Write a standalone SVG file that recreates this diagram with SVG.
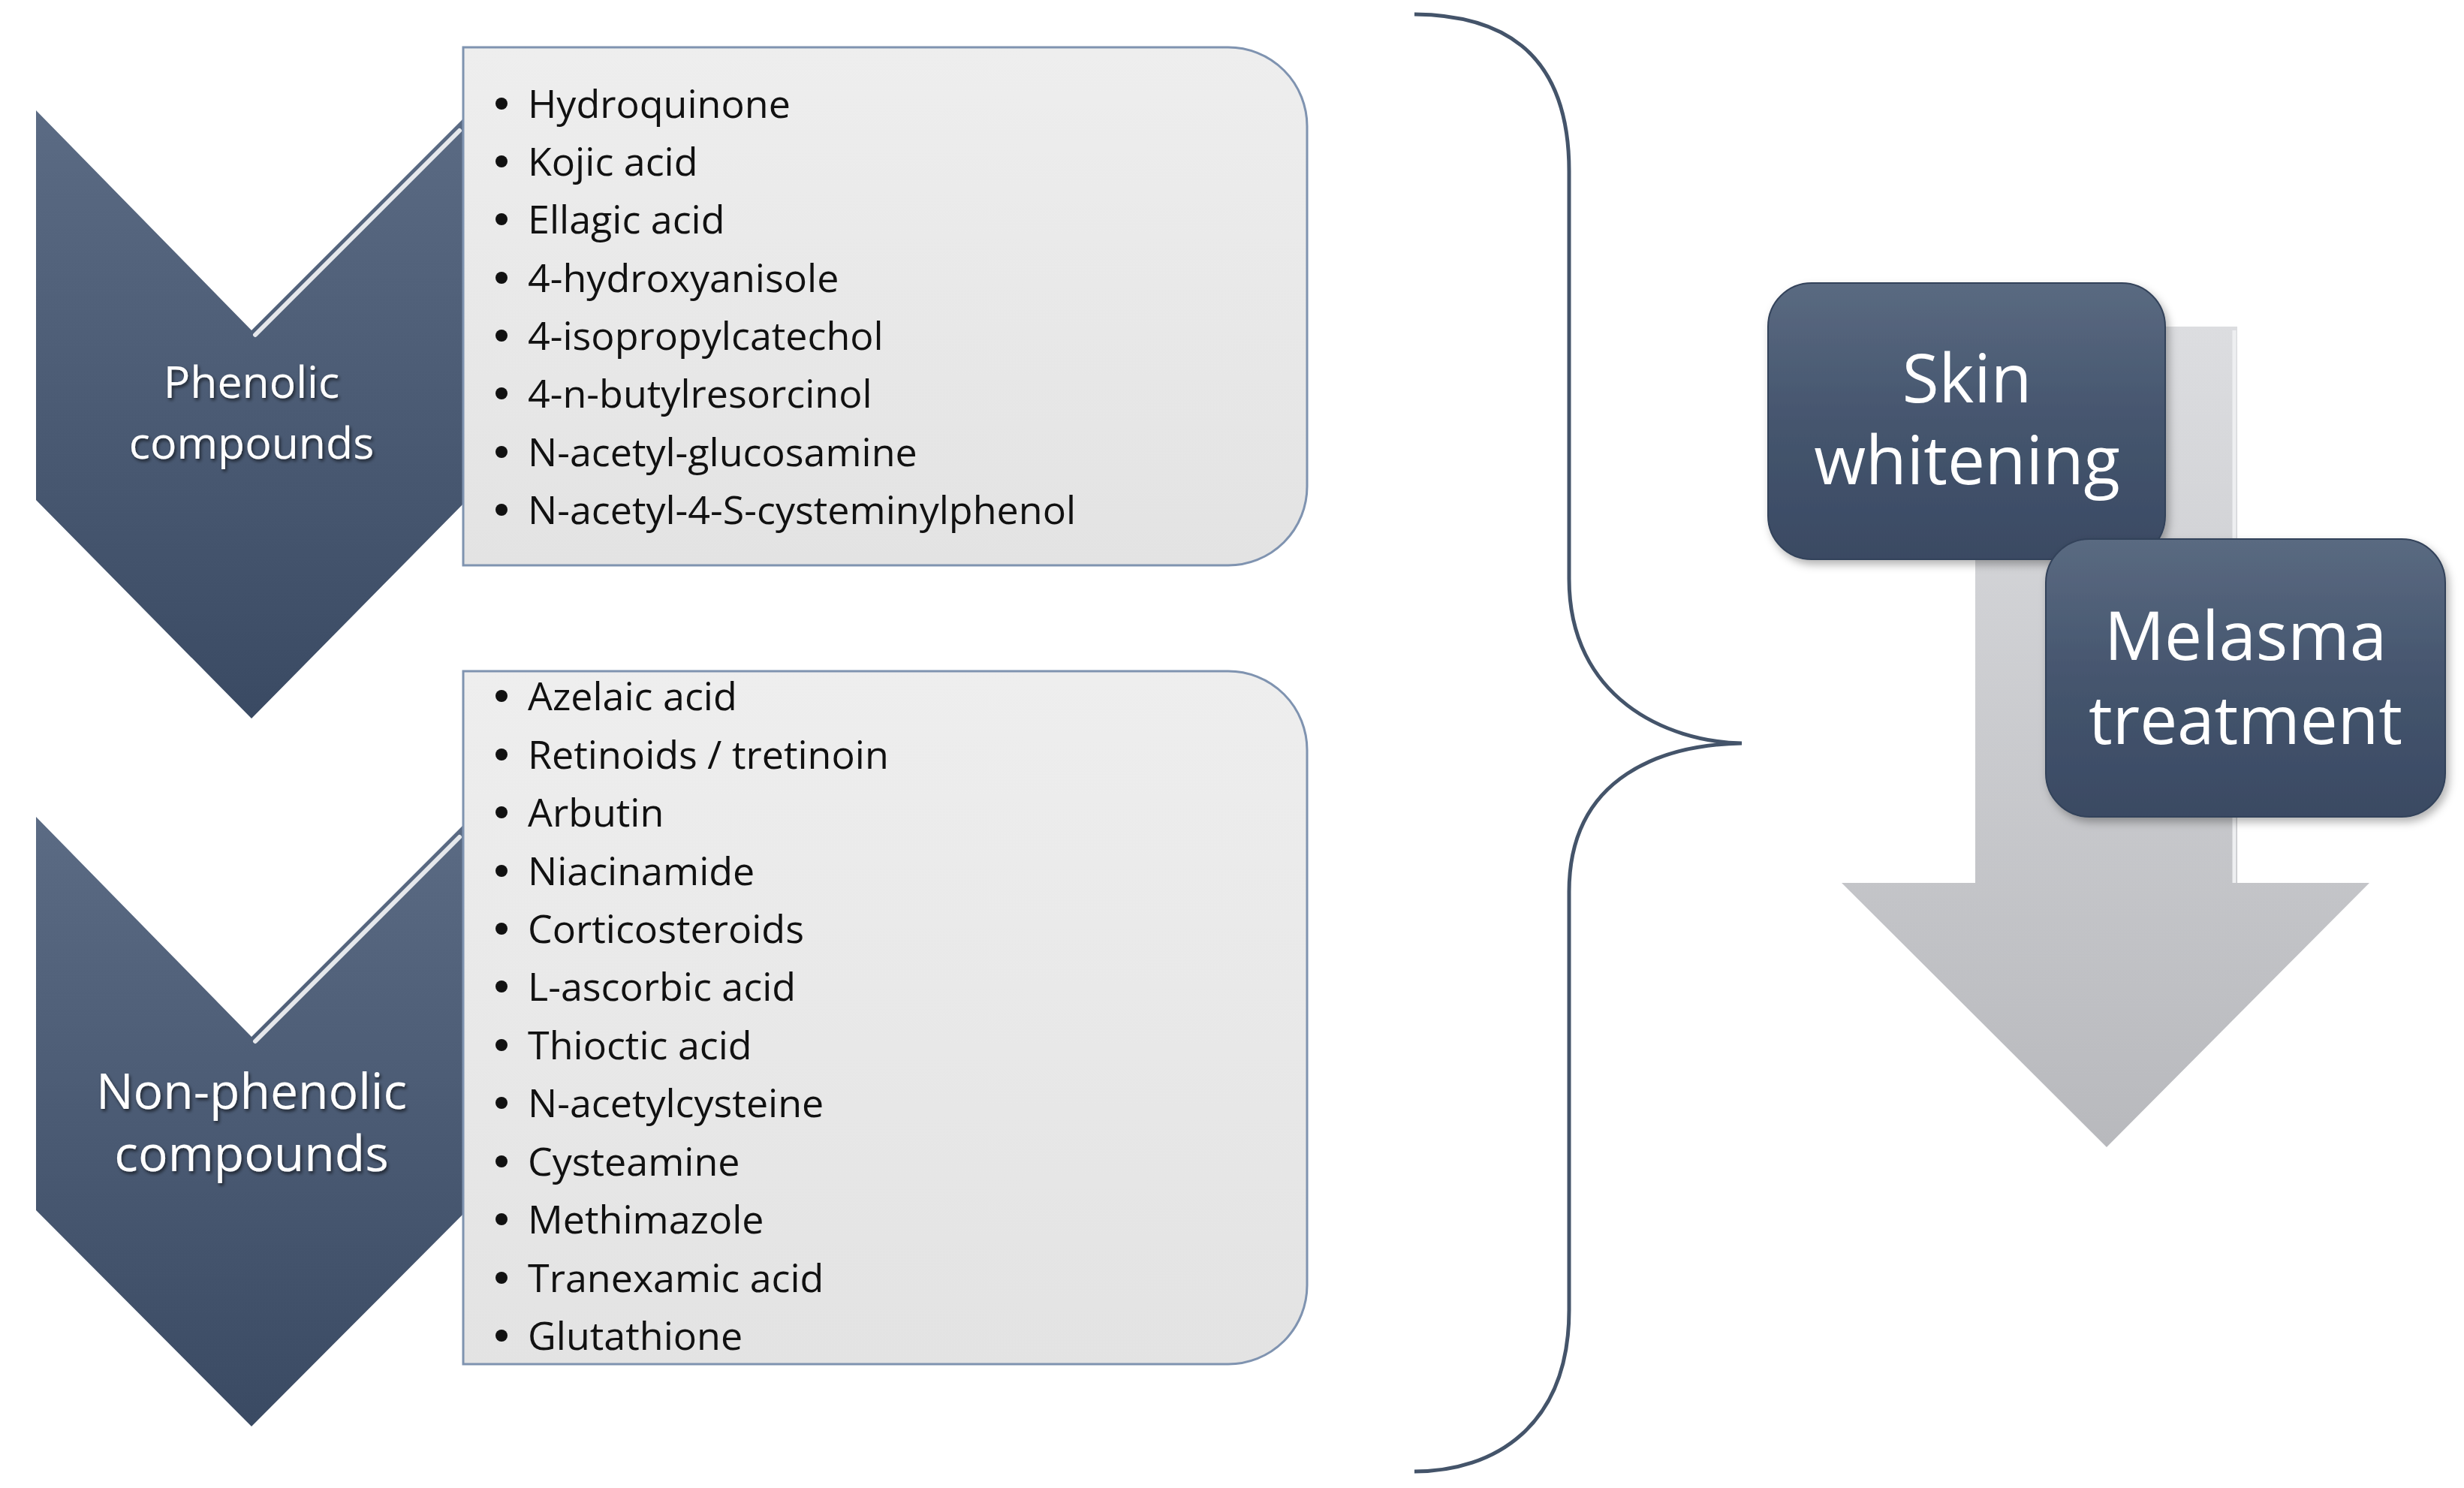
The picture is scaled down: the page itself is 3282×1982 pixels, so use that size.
<svg xmlns="http://www.w3.org/2000/svg" width="3282" height="1982" viewBox="0 0 3282 1982">
<defs>
<linearGradient id="gChev" x1="0" y1="0" x2="0" y2="1">
<stop offset="0" stop-color="#5b6b84"/>
<stop offset="1" stop-color="#3a4a63"/>
</linearGradient>
<linearGradient id="gDark" x1="0" y1="0" x2="0" y2="1">
<stop offset="0" stop-color="#5a6a81"/>
<stop offset="0.5" stop-color="#45556e"/>
<stop offset="1" stop-color="#3a4a63"/>
</linearGradient>
<linearGradient id="gBox" x1="0" y1="0" x2="0" y2="1">
<stop offset="0" stop-color="#eeeeee"/>
<stop offset="1" stop-color="#e3e3e3"/>
</linearGradient>
<linearGradient id="gArrow" x1="0" y1="0" x2="0" y2="1">
<stop offset="0" stop-color="#dcdde0"/>
<stop offset="1" stop-color="#b8b9bd"/>
</linearGradient>
<filter id="tsh" x="-10%" y="-20%" width="120%" height="150%">
<feDropShadow dx="2" dy="3" stdDeviation="2" flood-color="#000" flood-opacity="0.6"/>
</filter>
<filter id="bsh" x="-10%" y="-10%" width="125%" height="125%">
<feDropShadow dx="4" dy="6" stdDeviation="6" flood-color="#000" flood-opacity="0.3"/>
</filter>
<style>
.chev{fill:url(#gChev);}
.lbl{font-family:"Open Sans","DejaVu Sans",sans-serif;fill:#ffffff;text-anchor:middle;filter:url(#tsh);}
.box{fill:url(#gBox);stroke:#7f93b0;stroke-width:3;}
.item{font-family:"Open Sans","DejaVu Sans",sans-serif;font-size:52px;fill:#111111;}
.dot{fill:#111111;}
.dark{fill:url(#gDark);stroke:#33425a;stroke-width:2;filter:url(#bsh);}
.big{font-family:"Open Sans","DejaVu Sans",sans-serif;font-size:89px;fill:#ffffff;text-anchor:middle;}
.hl{stroke:#ffffff;stroke-width:6;fill:none;stroke-linecap:round;opacity:0.85;}
</style>
</defs>
<rect width="3282" height="1982" fill="#ffffff"/>

<g id="arrow">
<path d="M2631,435 H2980 V1176 H3156 L2806,1528 L2453,1176 H2631 Z" fill="url(#gArrow)"/>
<path d="M2976,440 V1176" stroke="#eeeff1" stroke-width="5" fill="none"/>
</g>

<g id="chevron-phenolic">
<path class="chev" d="M48,147 L335,440 L622,153 L622,666 L335,957 L48,666 Z"/>
<path class="hl" d="M340,446 L612,174"/>
<text class="lbl" x="335" y="530" font-size="59">Phenolic</text>
<text class="lbl" x="335" y="611" font-size="59">compounds</text>
</g>

<g id="chevron-nonphenolic">
<path class="chev" d="M48,1088 L335,1381 L622,1094 L622,1612 L335,1900 L48,1612 Z"/>
<path class="hl" d="M340,1387 L612,1115"/>
<text class="lbl" x="335" y="1477" font-size="66">Non-phenolic</text>
<text class="lbl" x="335" y="1560" font-size="66">compounds</text>
</g>

<g id="list-phenolic">
<path class="box" d="M617,63 H1636 A105,105 0 0 1 1741,168 V648 A105,105 0 0 1 1636,753 H617 Z"/>
<g class="dot">
<circle cx="668" cy="138" r="8"/><circle cx="668" cy="215" r="8"/><circle cx="668" cy="292" r="8"/><circle cx="668" cy="370" r="8"/>
<circle cx="668" cy="447" r="8"/><circle cx="668" cy="524" r="8"/><circle cx="668" cy="602" r="8"/><circle cx="668" cy="679" r="8"/>
</g>
<text class="item" x="703" y="157">Hydroquinone</text>
<text class="item" x="703" y="234">Kojic acid</text>
<text class="item" x="703" y="311">Ellagic acid</text>
<text class="item" x="703" y="389">4-hydroxyanisole</text>
<text class="item" x="703" y="466">4-isopropylcatechol</text>
<text class="item" x="703" y="543">4-n-butylresorcinol</text>
<text class="item" x="703" y="621">N-acetyl-glucosamine</text>
<text class="item" x="703" y="698">N-acetyl-4-S-cysteminylphenol</text>
</g>

<g id="list-nonphenolic">
<path class="box" d="M617,894 H1636 A105,105 0 0 1 1741,999 V1712 A105,105 0 0 1 1636,1817 H617 Z"/>
<g class="dot">
<circle cx="668" cy="927" r="8"/><circle cx="668" cy="1005" r="8"/><circle cx="668" cy="1082" r="8"/><circle cx="668" cy="1160" r="8"/>
<circle cx="668" cy="1237" r="8"/><circle cx="668" cy="1314" r="8"/><circle cx="668" cy="1392" r="8"/><circle cx="668" cy="1469" r="8"/>
<circle cx="668" cy="1547" r="8"/><circle cx="668" cy="1624" r="8"/><circle cx="668" cy="1702" r="8"/><circle cx="668" cy="1779" r="8"/>
</g>
<text class="item" x="703" y="946">Azelaic acid</text>
<text class="item" x="703" y="1024">Retinoids / tretinoin</text>
<text class="item" x="703" y="1101">Arbutin</text>
<text class="item" x="703" y="1179">Niacinamide</text>
<text class="item" x="703" y="1256">Corticosteroids</text>
<text class="item" x="703" y="1333">L-ascorbic acid</text>
<text class="item" x="703" y="1411">Thioctic acid</text>
<text class="item" x="703" y="1488">N-acetylcysteine</text>
<text class="item" x="703" y="1566">Cysteamine</text>
<text class="item" x="703" y="1643">Methimazole</text>
<text class="item" x="703" y="1721">Tranexamic acid</text>
<text class="item" x="703" y="1798">Glutathione</text>
</g>

<g id="connectors">
<path d="M1884,19 C1990,20 2090,60 2090,228 L2090,771 C2090,930 2220,988 2320,990 C2220,992 2090,1030 2090,1188 L2090,1745 C2090,1900 1990,1960 1884,1960" fill="none" stroke="#44546a" stroke-width="5"/>
</g>

<g id="skin-whitening">
<rect class="dark" x="2355" y="377" width="529" height="368" rx="58"/>
<text class="big" x="2620" y="536">Skin</text>
<text class="big" x="2620" y="645">whitening</text>
</g>

<g id="melasma-treatment">
<rect class="dark" x="2725" y="718" width="532" height="370" rx="58"/>
<text class="big" x="2991" y="879">Melasma</text>
<text class="big" x="2991" y="991">treatment</text>
</g>
</svg>
